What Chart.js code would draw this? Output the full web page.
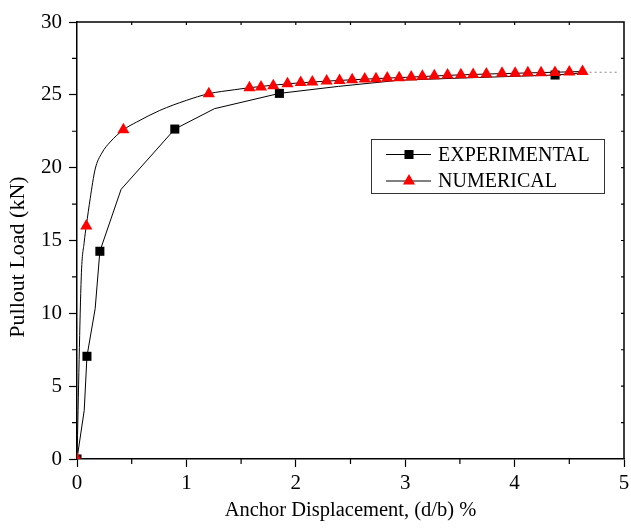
<!DOCTYPE html>
<html>
<head>
<meta charset="utf-8">
<script src="https://cdn.jsdelivr.net/npm/chart.js@4.4.0/dist/chart.umd.min.js"></script>
<style>
  body { margin: 0; background: #fff; }
  #caixa { width: 631px; height: 529px; }
</style>
</head>
<body>
<div id="caixa"><canvas id="grafico"></canvas></div>
<script>
// pontos experimentais (quadrados)
const expX = [0, 0.091, 0.209, 0.894, 1.85, 4.37]
const expY = [0, 7.05, 14.26, 22.65, 25.1, 26.36]
// curva experimental
const expCurvaX = [0, 0.066, 0.091, 0.166, 0.209, 0.403, 0.894, 1.257, 1.85, 2.39, 2.94, 3.5, 4.0, 4.37, 4.64]
const expCurvaY = [0, 3.34, 7.05, 10.32, 14.26, 18.51, 22.65, 24.05, 25.1, 25.58, 26.0, 26.15, 26.27, 26.36, 26.52]

// pontos numericos (triangulos)
const numX = [0, 0.085, 0.424, 1.205, 1.576, 1.682, 1.794, 1.924, 2.045, 2.151, 2.282, 2.4, 2.515, 2.63, 2.733,
  2.836, 2.945, 3.055, 3.157, 3.266, 3.387, 3.509, 3.621, 3.742, 3.885, 4.005, 4.121, 4.242, 4.369, 4.5, 4.621]
const numY = [0, 16.0, 22.6, 25.08, 25.49, 25.53, 25.63, 25.76, 25.85, 25.88, 25.95, 25.99, 26.04, 26.08, 26.10,
  26.15, 26.17, 26.22, 26.27, 26.31, 26.36, 26.38, 26.40, 26.43, 26.49, 26.49, 26.52, 26.52, 26.54, 26.56, 26.61]
// curva numerica
const numCurvaX = [0, 0.039, 0.066, 0.085, 0.121, 0.166, 0.227, 0.303, 0.424, 0.545, 0.757, 1.0, 1.205, 1.439,
  1.576, 2.0, 2.5, 3.0, 3.5, 4.0, 4.62]
const numCurvaY = [0, 12.5, 14.9, 16.0, 17.9, 19.9, 21.0, 21.76, 22.6, 23.13, 23.93, 24.62, 25.08, 25.35,
  25.49, 25.8, 26.03, 26.2, 26.37, 26.48, 26.6]

// prolongamento pontilhado
const extX = [4.64, 4.95]
const extY = [26.55, 26.55]

const legendas = ['EXPERIMENTAL', 'NUMERICAL']

const fonte = "'Liberation Serif', 'Times New Roman', serif"
Chart.defaults.font.family = fonte
Chart.defaults.color = '#000'

function pontos(xs, ys) {
    return xs.map((x, i) => ({ x: x, y: ys[i] }))
}

/* marcador desenhado a mao (legenda) */
function marcador(ctx, estilo, x, y, r, cor) {
    ctx.fillStyle = cor
    ctx.beginPath()
    if (estilo === 'rect') {
        const s = r * Math.SQRT1_2
        ctx.rect(x - s, y - s, 2 * s, 2 * s)
    } else {
        ctx.moveTo(x, y - r)
        ctx.lineTo(x + r * 0.866, y + r / 2)
        ctx.lineTo(x - r * 0.866, y + r / 2)
        ctx.closePath()
    }
    ctx.fill()
}

/* moldura, ticks menores e legenda */
const extras = {
    id: 'extras',
    afterDraw(chart) {
        const ctx = chart.ctx
        const { left, right, top, bottom } = chart.chartArea
        const sx = chart.scales.x
        const sy = chart.scales.y
        ctx.save()
        ctx.strokeStyle = '#000'
        ctx.lineWidth = 1.5
        ctx.beginPath()
        ctx.moveTo(left, top); ctx.lineTo(right, top); ctx.lineTo(right, bottom)
        ctx.stroke()
        ctx.lineWidth = 1.2
        ctx.beginPath()
        for (let v = 0.5; v < 5; v += 1) {
            const px = sx.getPixelForValue(v)
            ctx.moveTo(px, bottom); ctx.lineTo(px, bottom + 5)
        }
        for (let v = 2.5; v < 30; v += 5) {
            const py = sy.getPixelForValue(v)
            ctx.moveTo(left, py); ctx.lineTo(left - 5, py)
        }
        for (let v = 0.5; v < 5; v += 0.5) {
            const px = sx.getPixelForValue(v)
            ctx.moveTo(px, top); ctx.lineTo(px, top + 3)
        }
        for (let v = 2.5; v < 30; v += 2.5) {
            const py = sy.getPixelForValue(v)
            ctx.moveTo(right, py); ctx.lineTo(right - 3, py)
        }
        ctx.stroke()

        // legenda
        ctx.lineWidth = 1
        ctx.strokeStyle = '#333'
        ctx.strokeRect(371.5, 139.5, 233, 54)
        const itens = chart.data.datasets.filter(d => d.naLegenda)
        itens.forEach((d, i) => {
            const y = 154.5 + i * 26.5
            ctx.strokeStyle = '#000'
            ctx.beginPath()
            ctx.moveTo(386, y); ctx.lineTo(431, y)
            ctx.stroke()
            marcador(ctx, d.pointStyle, 409, y, d.pointRadius, d.pointBackgroundColor)
            ctx.fillStyle = '#000'
            ctx.font = '20px ' + fonte
            ctx.textBaseline = 'middle'
            ctx.textAlign = 'left'
            ctx.fillText(d.label, 438, y + 1)
        })
        ctx.restore()
    }
}

const grafico = new Chart(document.querySelector('#grafico'), {
    type: 'scatter',
    data: {
        datasets: [{
            label: 'curva exp',
            data: pontos(expCurvaX, expCurvaY),
            showLine: true,
            borderColor: '#000',
            borderWidth: 1,
            pointRadius: 0,
            order: 5
        }, {
            label: 'curva num',
            data: pontos(numCurvaX, numCurvaY),
            showLine: true,
            cubicInterpolationMode: 'monotone',
            borderColor: '#000',
            borderWidth: 1,
            pointRadius: 0,
            order: 4
        }, {
            label: 'ext',
            data: pontos(extX, extY),
            showLine: true,
            borderColor: '#888',
            borderWidth: 1,
            borderDash: [2, 3],
            pointRadius: 0,
            order: 6
        }, {
            label: legendas[0],
            naLegenda: true,
            data: pontos(expX, expY),
            pointStyle: 'rect',
            pointRadius: 6.4,
            pointBackgroundColor: '#000',
            pointBorderColor: '#000',
            pointBorderWidth: 0,
            order: 2
        }, {
            label: legendas[1],
            naLegenda: true,
            data: pontos(numX, numY),
            pointStyle: 'triangle',
            pointRadius: 7,
            pointBackgroundColor: '#ff0000',
            pointBorderColor: '#ff0000',
            pointBorderWidth: 0,
            order: 1
        }]
    },
    options: {
        responsive: true,
        maintainAspectRatio: false,
        animation: false,
        layout: { padding: { top: 22, right: 0, left: 0, bottom: 0 } },
        plugins: {
            legend: { display: false },
            tooltip: { enabled: false }
        },
        scales: {
            x: {
                type: 'linear',
                min: 0,
                max: 5,
                ticks: { stepSize: 1, padding: 4, font: { size: 21 }, color: '#000' },
                grid: { drawOnChartArea: false, tickLength: 8, tickColor: '#000', tickWidth: 1.2 },
                border: { color: '#000', width: 1.5 },
                title: { display: true, text: 'Anchor Displacement, (d/b) %', font: { size: 20.5 }, color: '#000', padding: { top: 0, bottom: 6 } },
                afterFit: (scale) => {
                    scale.height = 70
                    scale.paddingRight = 1
                    scale.paddingLeft = 0
                }
            },
            y: {
                min: 0,
                max: 30,
                ticks: { stepSize: 5, padding: 7, font: { size: 21 }, color: '#000' },
                grid: { drawOnChartArea: false, tickLength: 8, tickColor: '#000', tickWidth: 1.2 },
                border: { color: '#000', width: 1.5 },
                title: { display: true, text: 'Pullout Load (kN)      ', font: { size: 22 }, color: '#000', padding: { top: 5, bottom: 0 } },
                afterFit: (scale) => { scale.width = 77 }
            }
        }
    },
    plugins: [extras]
})
</script>
</body>
</html>
